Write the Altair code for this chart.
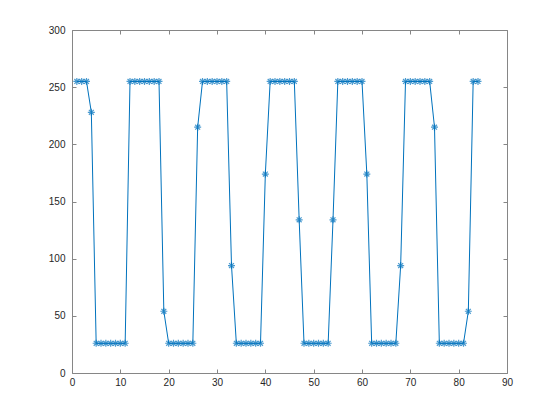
import altair as alt
import pandas as pd

x_vals = list(range(1, 85))
y_vals = (
    [255, 255, 255, 228]
    + [26] * 7 + [255] * 7 + [54]
    + [26] * 6 + [215] + [255] * 6 + [94]
    + [26] * 6 + [174] + [255] * 6 + [134]
    + [26] * 6 + [134] + [255] * 6 + [174]
    + [26] * 6 + [94] + [255] * 6 + [215]
    + [26] * 6 + [54] + [255, 255]
)
x_ticks = [0, 10, 20, 30, 40, 50, 60, 70, 80, 90]
y_ticks = [0, 50, 100, 150, 200, 250, 300]

df = pd.DataFrame({"x": x_vals, "y": y_vals})

W, H = 435, 343
BLUE = "#0072BD"
GRAY = "#868686"
LABEL = "#262626"
STAR = "M-1,0L1,0M0,-1L0,1M-0.7,-0.7L0.7,0.7M-0.7,0.7L0.7,-0.7"
TS = 4

xs = alt.Scale(domain=[0, 90], nice=False, zero=False)
ys = alt.Scale(domain=[0, 300], nice=False, zero=False)

base = alt.Chart(df)

def xenc(axis):
    return alt.X("x:Q", scale=xs, axis=axis, title=None)

def yenc(axis):
    return alt.Y("y:Q", scale=ys, axis=axis, title=None)

lab_x = alt.Axis(orient="bottom", values=x_ticks, ticks=False, labelPadding=4, domain=False,
                 grid=False, labelFont="Liberation Sans", labelFontSize=10, labelColor=LABEL,
                 labelFlush=False)
lab_y = alt.Axis(orient="left", values=y_ticks, ticks=False, labelPadding=7, domain=False,
                 grid=False, labelFont="Liberation Sans", labelFontSize=10, labelColor=LABEL,
                 labelFlush=False)

in_bottom = alt.Axis(orient="bottom", values=x_ticks, labels=False, domain=False,
                     grid=False, tickSize={"expr": str(-TS)}, tickColor=GRAY, tickWidth=1)
in_left = alt.Axis(orient="left", values=y_ticks, labels=False, domain=False,
                   grid=False, tickSize={"expr": str(-TS)}, tickColor=GRAY, tickWidth=1)
in_top = alt.Axis(orient="bottom", offset=-H, values=x_ticks, labels=False, domain=False,
                  grid=False, tickSize=TS, tickColor=GRAY, tickWidth=1)
in_right = alt.Axis(orient="left", offset=-W, values=y_ticks, labels=False, domain=False,
                    grid=False, tickSize=TS, tickColor=GRAY, tickWidth=1)

line = base.mark_line(color=BLUE, strokeWidth=1).encode(x=xenc(lab_x), y=yenc(lab_y))
pts = base.mark_point(shape=STAR, size=49, color=BLUE, filled=False, strokeWidth=1.2).encode(
    x=xenc(in_bottom), y=yenc(in_left))
ghost = base.mark_point(opacity=0).encode(x=xenc(in_top), y=yenc(in_right))

chart = alt.layer(line, pts, ghost).resolve_axis(x="independent", y="independent").properties(
    width=W, height=H,
    autosize=alt.AutoSizeParams(type="none"),
    padding={"left": 64, "top": 22, "right": 40, "bottom": 30},
    background="white",
).configure_view(stroke=GRAY, strokeWidth=1)

chart.save("out.html", embed_options={"renderer": "svg", "actions": False})
